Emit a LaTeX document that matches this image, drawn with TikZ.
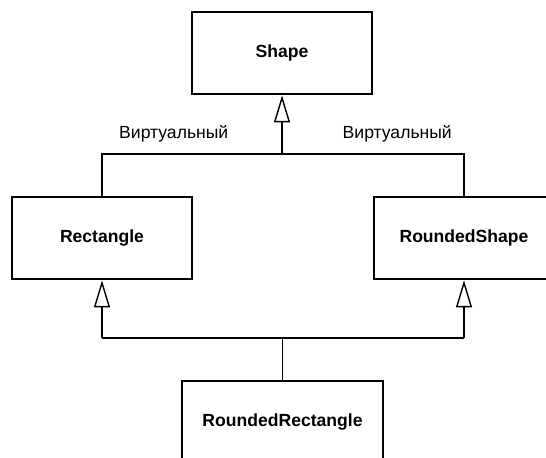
\documentclass[tikz,border=0pt]{standalone}
\usepackage{fontspec}
\setmainfont{Liberation Sans}
\usetikzlibrary{arrows.meta}

\tikzset{
  classbox/.style={draw, line width=1.6pt, minimum width=3.6cm, minimum height=1.64cm, font=\bfseries},
  inherit/.style={line width=0.8pt, -{Triangle[open, width=0.32cm, length=0.54cm, line width=0.8pt]}},
  conn/.style={line width=0.8pt},
  virt/.style={font=\normalsize}
}

\begin{document}
\begin{tikzpicture}

\useasboundingbox (0,0) rectangle (10.92,9.16);

\node[classbox] (shape) at (5.64,8.10) {Shape};
\node[classbox] (rect) at (2.04,4.40) {Rectangle};
\node[classbox] (rshape) at (9.28,4.40) {RoundedShape};
\node[classbox, minimum width=4.02cm] (rrect) at (5.65,0.72) {RoundedRectangle};

\coordinate (top) at (5.64,6.08);
\coordinate (bottom) at (5.65,2.40);

\draw[conn] (rect.north) |- (top) -| (rshape.north);
\draw[inherit] (top) -- (shape.south);

\draw[conn] (rect.south |- bottom) -- (rshape.south |- bottom);
\draw[conn] (rrect.north) -- (bottom);
\draw[inherit] (rect.south |- bottom) -- (rect.south);
\draw[inherit] (rshape.south |- bottom) -- (rshape.south);

\node[virt, anchor=base west] (v1) at (2.26,6.38) {Виртуальный};
\node[virt, anchor=base east] (v2) at (9.16,6.38) {Виртуальный};

\end{tikzpicture}
\end{document}
